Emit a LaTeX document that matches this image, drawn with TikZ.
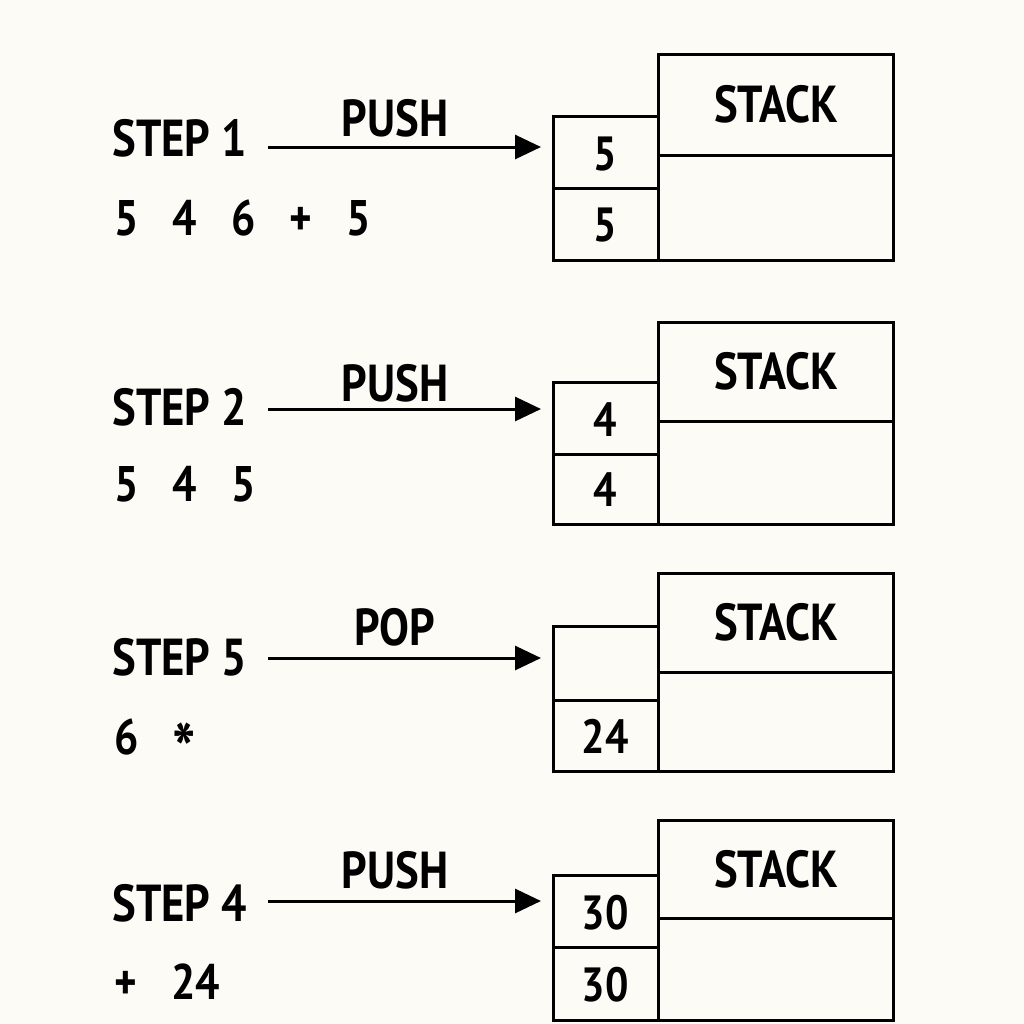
\documentclass[tikz,border=0pt]{standalone}
\usepackage{fontspec}
\setmainfont{PT Sans}[FakeStretch=0.86]
\usetikzlibrary{arrows.meta,positioning}
\definecolor{paper}{HTML}{FCFBF5}
\newcommand\tokgap{\hspace{17pt}}
\newcommand\midstar{\smash{\raisebox{-0.42em}{\fontsize{36}{36}\selectfont *}}}
\tikzset{
  box/.style={draw, line width=1.5pt},
  steplabel/.style={anchor=west, inner sep=0pt, font=\bfseries\fontsize{26}{30}\selectfont},
  exprlabel/.style={anchor=west, inner sep=0pt, font=\bfseries\fontsize{25}{30}\selectfont},
  oplabel/.style={inner sep=0pt, font=\bfseries\fontsize{26}{30}\selectfont},
  cellval/.style={inner sep=0pt, font=\bfseries\fontsize{24}{28}\selectfont},
  arr/.style={line width=1.5pt, shorten >=6pt, -{Triangle[length=13pt,width=12pt]}}
}
\begin{document}
\begin{tikzpicture}[x=0.5pt,y=-0.5pt]
\fill[paper] (0,0) rectangle (1024,1024);
\useasboundingbox (0,0) rectangle (1024,1024);
% one block per step: stack top/divider/bottom, cell top/middle, arrow, step, expression, op
\foreach \n/\num/\T/\D/\B/\ct/\cm/\a/\s/\e/\o/\op/\top/\bot/\ex in {
  1/1/54/155/260/116/188/147/138/218/118/PUSH/5/5/{5\tokgap4\tokgap6\tokgap+\tokgap5},
  2/2/322/421/524/382/454/409/407/484/383/PUSH/4/4/{5\tokgap4\tokgap5},
  3/5/573/672/771/626/700/658/657/737/627/POP//24/{6\tokgap\midstar},
  4/4/820/918/1020/875/947/901/903/982/870/PUSH/30/30/{+\tokgap24}}
{
  % stack box
  \draw[box] (658,\T) rectangle (893,\B);
  \draw[box] (658,\D) -- (893,\D);
  \node[oplabel] (stack\n) at (776,{(\T+\D)/2}) {STACK};
  % cells
  \draw[box] (553,\ct) rectangle (658,\B);
  \draw[box] (553,\cm) -- (658,\cm);
  \node[cellval] (top\n) at (605,{(\ct+\cm)/2+2}) {\top};
  \node[cellval] (bot\n) at (605,{(\cm+\B)/2+1}) {\bot};
  % step and expression
  \node[steplabel] (step\n) at (112,\s) {STEP \num};
  \node[exprlabel] (expr\n) at (114,\e) {\ex};
  % arrow
  \coordinate (tail\n) at (268,\a);
  \coordinate (cw\n) at (553,\a);
  \draw[arr] (tail\n) -- (cw\n);
  \node[oplabel] (op\n) at (395,\o) {\op};
}
\end{tikzpicture}
\end{document}
